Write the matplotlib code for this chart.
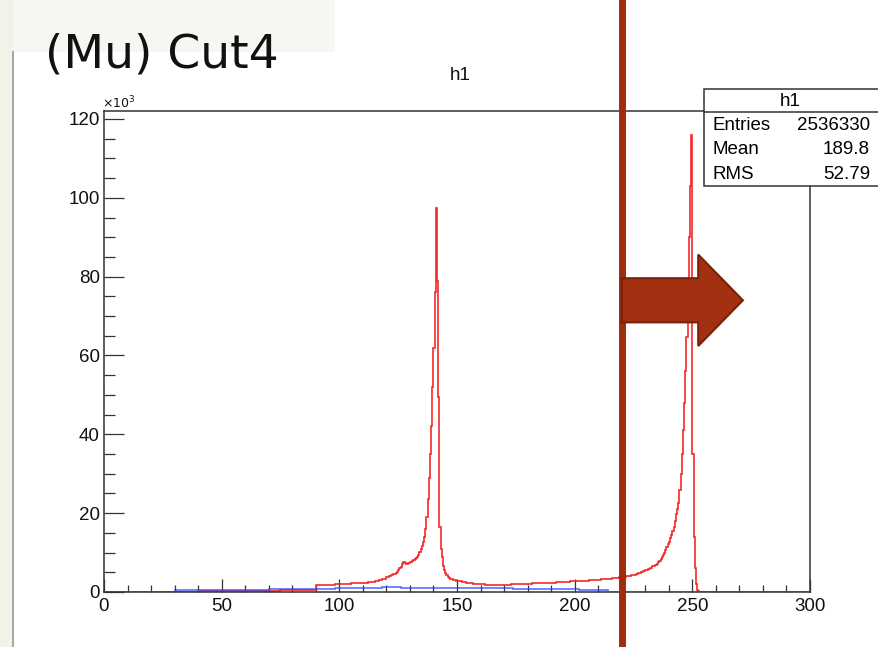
import numpy as np
import matplotlib
matplotlib.use("Agg")
import matplotlib.pyplot as plt
from matplotlib.patches import Rectangle

plt.rcParams['font.family'] = ['Liberation Sans', 'DejaVu Sans']

# ---- histogram contents (x10^3 counts) ----
# red histogram: segments of (start, bin width, values)
red_head = [0.0]                                   # 0 - 30
red_low = [0.1, 0.1, 0.2, 0.2, 0.2, 0.3, 0.3, 0.3, 0.3, 0.4, 0.4, 0.4]   # 30 - 90, width 5
red_rise = [1.8, 1.8, 1.8, 1.8, 1.9, 1.9, 1.9, 1.9, 2.0, 2.0, 2.0, 2.0,
            2.1, 2.1, 2.1, 2.2, 2.2, 2.2, 2.3, 2.3, 2.4, 2.4, 2.5, 2.5,
            2.6, 2.7, 2.8, 3.0, 3.2, 3.4, 3.7, 4.0, 4.3, 4.6]          # 90 - 124, width 1
red_peak1 = [4.8, 5.1, 5.5, 6.0, 6.4, 7.0, 7.7, 7.5, 7.3, 7.2, 7.3, 7.4,
             7.5, 7.7, 7.9, 8.1, 8.4, 8.7, 9.0, 9.5, 10.1, 10.8, 11.6, 12.6,
             14.0, 16.0, 19.0, 23.5, 29.0, 35.0, 42.0, 52.0, 62.0, 76.0,
             97.3, 79.0, 49.5, 16.6, 11.0, 9.0, 6.5, 5.6, 4.8, 4.3, 3.9,
             3.6, 3.4, 3.3, 3.2, 3.1, 3.0, 2.9]                         # 124 - 150, width 0.5
red_mid = [2.8, 2.7, 2.6, 2.5, 2.4, 2.3, 2.2, 2.1, 2.1, 2.0, 2.0, 2.0,
           1.9, 1.9, 1.9, 1.9, 1.9, 1.9, 1.9, 1.9, 1.9, 1.9, 1.9, 2.0,
           2.0, 2.0, 2.0, 2.0, 2.1, 2.1, 2.1, 2.1, 2.2, 2.2, 2.2, 2.2,
           2.3, 2.3, 2.3, 2.4, 2.4, 2.4, 2.5, 2.5, 2.5, 2.6, 2.6, 2.6,
           2.7, 2.7, 2.7, 2.8, 2.8, 2.9, 2.9, 2.9, 3.0, 3.0, 3.0, 3.1,
           3.1, 3.2, 3.2, 3.3, 3.3, 3.4, 3.5, 3.5, 3.6, 3.7, 3.8, 3.9,
           4.0, 4.1, 4.2, 4.4, 4.6, 4.8, 5.0, 5.3, 5.6, 5.9, 6.2, 6.5, 6.9]  # 150 - 235, width 1
red_peak2 = [7.2, 7.5, 7.9, 8.3, 8.8, 9.4, 10.0, 10.7, 11.4, 12.1, 12.8, 13.6,
             14.4, 15.4, 16.6, 18.0, 19.7, 21.0, 22.5, 26.0, 30.0, 35.0, 41.0, 48.0,
             56.0, 64.8, 78.0, 90.0, 103.0, 116.0, 35.0, 14.0, 6.0, 2.0, 0.6, 0.2]  # 235 - 253, width 0.5
red_tail = [0.0]                                   # 253 - 300

# blue histogram
blue_head = [0.0]                                  # 0 - 30
blue_body = [0.4, 0.4, 0.4, 0.4, 0.5, 0.5, 0.5, 0.6, 0.6, 0.6, 0.7, 0.7, 0.7,
             0.8, 0.8, 0.8, 0.8, 0.9, 0.9, 0.9, 0.9, 0.9, 1.2, 1.3, 1.1,
             1.0, 1.0, 1.0, 1.0, 1.0, 0.9, 0.9, 0.9, 0.9, 0.9, 0.9, 0.8, 0.8,
             0.8, 0.8, 0.8, 0.7, 0.7, 0.6, 0.6, 0.5]   # 30 - 214, width 4
blue_tail = [0.0]                                  # 214 - 300

red_segments = [(0, 30, red_head), (30, 5, red_low), (90, 1, red_rise),
                (124, 0.5, red_peak1), (150, 1, red_mid), (235, 0.5, red_peak2),
                (253, 47, red_tail)]
blue_segments = [(0, 30, blue_head), (30, 4, blue_body), (214, 86, blue_tail)]

x_ticks = [0, 50, 100, 150, 200, 250, 300]
y_ticks = [0, 20, 40, 60, 80, 100, 120]

hist_name = "h1"
entries = "2536330"
mean = "189.8"
rms = "52.79"
cut_value = 220
slide_title = "(Mu) Cut4"


def build(segments):
    edges = [segments[0][0]]
    vals = []
    for start, w, v in segments:
        for val in v:
            vals.append(val)
            edges.append(edges[-1] + w)
    return np.array(edges), np.array(vals)


W, H = 879, 647
fig = plt.figure(figsize=(W / 100, H / 100), dpi=100)
fig.patch.set_facecolor("white")


def fx(px):
    return px / W


def fy(py):
    return 1 - py / H


# slide background bits
fig.patches.append(Rectangle((0, 0), fx(13), 1, transform=fig.transFigure,
                             facecolor="#f2f3e8", edgecolor="none", zorder=0))
fig.patches.append(Rectangle((fx(13), fy(52)), fx(322), 52 / H, transform=fig.transFigure,
                             facecolor="#f6f6f2", edgecolor="none", zorder=0))
fig.lines.append(plt.Line2D([fx(13.5), fx(13.5)], [0, fy(52)], transform=fig.transFigure,
                            color="#a8a8a8", lw=1.5))

ax = fig.add_axes([fx(104), fy(592), (810 - 104) / W, (592 - 111) / H])
ax.set_xlim(0, 300)
ax.set_ylim(0, (592 - 111) / 3.942)

edges_r, vals_r = build(red_segments)
edges_b, vals_b = build(blue_segments)
ax.stairs(vals_r, edges_r, color="#f42a2a", lw=1.2, zorder=2)
ax.stairs(vals_b, edges_b, color="#2440ff", lw=1.2, alpha=0.75, zorder=3)

for s in ax.spines.values():
    s.set_color("#333333")
    s.set_linewidth(1.1)

ax.set_xticks(x_ticks)
ax.set_yticks(y_ticks)
ax.set_xticks(np.arange(0, 301, 10), minor=True)
ax.set_yticks(np.arange(0, 121, 5), minor=True)
ax.tick_params(axis="both", which="both", direction="in", color="#333333", width=0.9,
               labelsize=13.5, labelcolor="#111111")
ax.tick_params(axis="y", which="major", length=14.5, pad=3)
ax.tick_params(axis="y", which="minor", length=8)
ax.tick_params(axis="x", which="major", length=9.5, pad=4)
ax.tick_params(axis="x", which="minor", length=5)

fig.text(fx(102), fy(108), r"$\times10^{3}$", fontsize=9, ha="left", va="baseline",
         color="#111111")
fig.text(fx(460), fy(75), hist_name, fontsize=13.5, ha="center", va="center", color="#111111")

# stats box
fig.patches.append(Rectangle((fx(704), fy(186)), fx(190), (186 - 89) / H,
                             transform=fig.transFigure, facecolor="white",
                             edgecolor="#333333", lw=1.1, zorder=5))
fig.lines.append(plt.Line2D([fx(704), 1.05], [fy(112), fy(112)], transform=fig.transFigure,
                            color="#333333", lw=1.1, zorder=6))
fig.text(fx(790), fy(101), hist_name, fontsize=13.5, ha="center", va="center", zorder=7)
for label, value, py in [("Entries", entries, 126), ("Mean", mean, 150), ("RMS", rms, 174)]:
    fig.text(fx(713), fy(py), label, fontsize=13.5, ha="left", va="center", zorder=7)
    fig.text(fx(870), fy(py), value, fontsize=13.5, ha="right", va="center", zorder=7)

# cut line and arrow
ax.axvline(cut_value, ymin=-0.12, ymax=1.25, color="#a02c10", lw=5, clip_on=False, zorder=8)
ax.arrow(cut_value, 74, 51.5, 0, width=11.2, head_width=23.2, head_length=19,
         length_includes_head=True, facecolor="#a33010", edgecolor="#76220a",
         lw=1.5, clip_on=False, zorder=9)

fig.text(fx(45), fy(67), slide_title, fontsize=34, family="DejaVu Sans",
         ha="left", va="baseline", color="#111111")

fig.savefig("out.png", dpi=100)
